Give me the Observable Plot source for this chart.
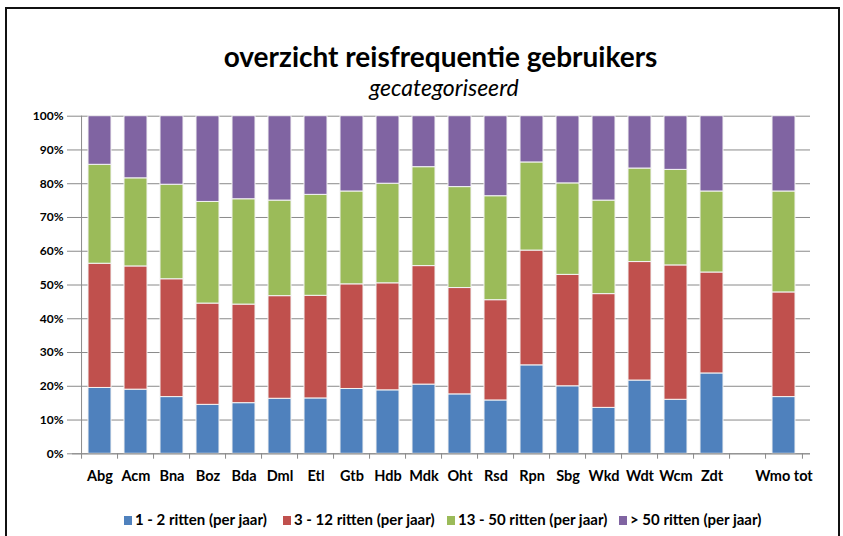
<!DOCTYPE html>
<html>
<head>
<meta charset="utf-8">
<script src="https://cdn.jsdelivr.net/npm/d3@7"></script>
<script src="https://cdn.jsdelivr.net/npm/@observablehq/plot@0.6"></script>
<style>
  html, body { margin: 0; padding: 0; background: #fff; }
  body { width: 843px; height: 536px; overflow: hidden; position: relative; font-family: Lato, "Open Sans", sans-serif; }
  #frame { position: absolute; left: 5px; top: 7px; width: 835px; height: 540px; border: 2px solid #111; box-sizing: border-box; }
  #title { position: absolute; left: 0; width: 881px; top: 42px; text-align: center; font-weight: 700; font-size: 28px; line-height: 1; color: #000; }
  #subtitle { position: absolute; left: 0; width: 888px; top: 76px; text-align: center; font-style: italic; font-size: 23px; line-height: 1; color: #000; }
  #chart { position: absolute; left: 0; top: 0; }
  .leg { position: absolute; top: 512px; font-size: 15px; font-weight: 700; line-height: 1; white-space: nowrap; color: #000; }
  .leg span.sw { display: inline-block; width: 8px; height: 9px; margin-right: 3px; vertical-align: 0px; }
</style>
</head>
<body>
<div id="frame"></div>
<div id="title">overzicht reisfrequentie gebruikers</div>
<div id="subtitle">gecategoriseerd</div>
<div id="chart"></div>
<div id="legend"></div>
<script>
// categories (bars), the blank slot before the total is a spacer
const categories = ["Abg","Acm","Bna","Boz","Bda","Dml","Etl","Gtb","Hdb","Mdk","Oht","Rsd","Rpn","Sbg","Wkd","Wdt","Wcm","Zdt","Wmo tot"];
const seriesNames = ["1 - 2 ritten (per jaar)", "3 - 12 ritten (per jaar)", "13 - 50 ritten (per jaar)", "> 50 ritten (per jaar)"];
const seriesColors = ["#4F81BD", "#C0504D", "#9BBB59", "#8064A2"];
// share per category (percent)
const rides1to2   = [19.5, 19.0, 16.8, 14.5, 15.0, 16.3, 16.4, 19.2, 18.8, 20.5, 17.6, 15.8, 26.2, 20.0, 13.6, 21.7, 16.0, 23.8, 16.8];
const rides3to12  = [36.8, 36.5, 34.9, 30.0, 29.2, 30.4, 30.4, 31.0, 31.7, 35.1, 31.5, 29.7, 34.0, 33.0, 33.7, 35.1, 39.8, 29.9, 31.0];
const rides13to50 = [29.3, 26.1, 28.0, 30.1, 31.2, 28.3, 29.9, 27.5, 29.5, 29.3, 29.9, 30.8, 26.1, 27.1, 27.7, 27.7, 28.3, 24.0, 29.9];
const rides50plus = [14.4, 18.4, 20.3, 25.4, 24.6, 25.0, 23.3, 22.3, 20.0, 15.1, 21.0, 23.7, 13.7, 19.9, 25.0, 15.5, 15.9, 22.3, 22.3];
const yTicks = [0, 10, 20, 30, 40, 50, 60, 70, 80, 90, 100];

const seriesValues = [rides1to2, rides3to12, rides13to50, rides50plus];
const rows = [];
categories.forEach((c, i) => {
  seriesNames.forEach((s, j) => rows.push({cat: c, series: s, value: seriesValues[j][i]}));
});
const spacer = " ";
const xDomain = [...categories.slice(0, -1), spacer, categories[categories.length - 1]];

const W = 843, H = 536;
const mL = 72, mR = 33, mT = 115.7, mB = 82.7;
const step = (W - mL - mR) / xDomain.length;
const grey = "#8a8a8a";

const chart = Plot.plot({
  width: W, height: H,
  marginLeft: mL, marginRight: mR, marginTop: mT, marginBottom: mB,
  style: {fontFamily: "Lato, 'Open Sans', sans-serif", background: "transparent", color: "#000"},
  x: {domain: xDomain, paddingInner: 0.37, paddingOuter: 0.185, axis: null},
  y: {domain: [0, 100], axis: null},
  color: {domain: seriesNames, range: seriesColors},
  marks: [
    Plot.gridY(yTicks, {stroke: grey, strokeOpacity: 1, strokeWidth: 1}),
    Plot.barY(rows, {x: "cat", y: "value", fill: "series", order: seriesNames, stroke: "#f4f4f4", strokeWidth: 1}),
    Plot.ruleX([xDomain[0]], {x: d => d, dx: -step / 2, y1: 0, y2: 100, stroke: grey}),
    Plot.ruleY([0], {stroke: grey}),
    Plot.ruleX(xDomain, {x: d => d, dx: -step / 2, y1: 0, y2: -1.6, stroke: grey}),
    Plot.ruleX([xDomain[xDomain.length - 1]], {x: d => d, dx: step / 2, y1: 0, y2: -1.6, stroke: grey}),
    Plot.axisY(yTicks, {anchor: "left", tickSize: 5, tickPadding: 4, stroke: grey, tickFormat: d => d + "%", fontSize: 12, fontWeight: 700, fill: "#000", label: null}),
    Plot.axisX(categories, {anchor: "bottom", tickSize: 0, tickPadding: 17, fontSize: 14.5, fontWeight: 700, fill: "#000", label: null})
  ]
});
document.getElementById("chart").appendChild(chart);

// legend
const legendX = [124, 283, 447, 619];
const legend = document.getElementById("legend");
seriesNames.forEach((s, i) => {
  const d = document.createElement("div");
  d.className = "leg";
  d.style.left = legendX[i] + "px";
  d.innerHTML = `<span class="sw" style="background:${seriesColors[i]}"></span>${s}`;
  legend.appendChild(d);
});
</script>
</body>
</html>
